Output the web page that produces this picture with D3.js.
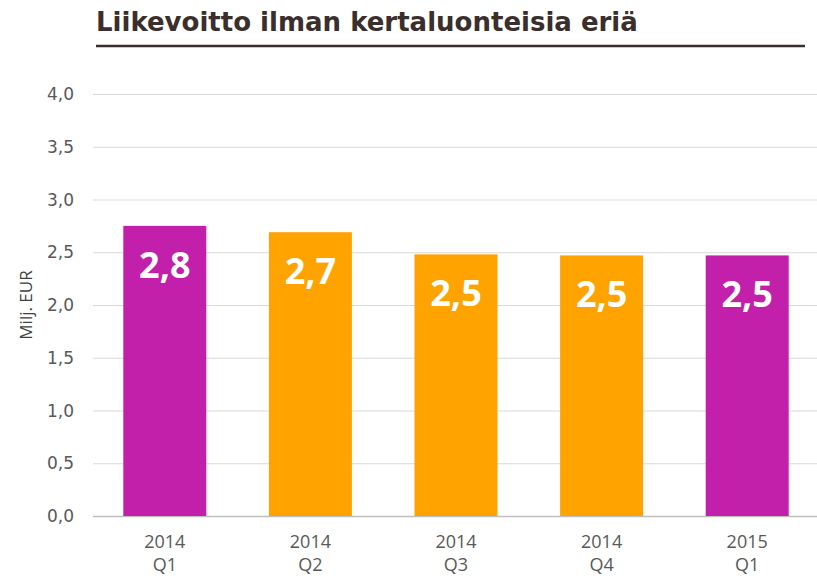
<!DOCTYPE html>
<html>
<head>
<meta charset="utf-8">
<script src="https://cdn.jsdelivr.net/npm/d3@7"></script>
<style>
  body { margin: 0; background: #fff; }
  svg { display: block; }
</style>
</head>
<body>
<div id="chart"></div>
<script>
// data
var years = ["2014", "2014", "2014", "2014", "2015"];
var quarters = ["Q1", "Q2", "Q3", "Q4", "Q1"];
var values = [2.75, 2.69, 2.48, 2.47, 2.47];
var valueLabels = ["2,8", "2,7", "2,5", "2,5", "2,5"];
var barColors = ["#C21FAB", "#FFA300", "#FFA300", "#FFA300", "#C21FAB"];
var yTicks = [0, 0.5, 1, 1.5, 2, 2.5, 3, 3.5, 4];

var width = 817, height = 576;

var df = values.map(function(v, i){
  return {key: i, year: years[i], q: quarters[i], value: v, label: valueLabels[i], color: barColors[i]};
});

var svg = d3.select("#chart").append("svg")
  .attr("width", width)
  .attr("height", height);

// title + rule under it
svg.append("text")
  .attr("x", 96)
  .attr("y", 31)
  .style("font-family", "'DejaVu Sans', sans-serif")
  .style("font-weight", "bold")
  .style("font-size", "26px")
  .style("fill", "#3a2f2c")
  .text("Liikevoitto ilman kertaluonteisia eriä");

svg.append("line")
  .attr("x1", 96).attr("x2", 805)
  .attr("y1", 46).attr("y2", 46)
  .style("stroke", "#3a2f2c")
  .style("stroke-width", 2.5);

var yScale = d3.scaleLinear()
  .domain([0, 4])
  .range([516, 94]);

var xScale = d3.scaleBand()
  .domain(df.map(function(d){ return d.key; }))
  .range([92, 820])
  .paddingInner(0.43)
  .paddingOuter(0.215);

// gridlines
svg.append("g").selectAll("line")
  .data(yTicks)
  .enter()
  .append("line")
    .attr("x1", 93).attr("x2", 817)
    .attr("y1", function(d){ return yScale(d) + 0.5; })
    .attr("y2", function(d){ return yScale(d) + 0.5; })
    .style("stroke", function(d){ return d === 0 ? "#bfbfbf" : "#d9d9d9"; })
    .style("stroke-width", function(d){ return d === 0 ? 1.5 : 1; });

// y tick labels
svg.append("g").selectAll("text")
  .data(yTicks)
  .enter()
  .append("text")
    .attr("x", 74)
    .attr("y", function(d){ return yScale(d); })
    .attr("dy", "0.36em")
    .style("text-anchor", "end")
    .style("font-family", "'DejaVu Sans', sans-serif")
    .style("font-size", "17px")
    .style("fill", "#595959")
    .text(function(d){ return d3.format(".1f")(d).replace(".", ","); });

// bars
svg.append("g").selectAll("rect")
  .data(df)
  .enter()
  .append("rect")
    .attr("x", function(d){ return xScale(d.key); })
    .attr("y", function(d){ return yScale(d.value); })
    .attr("width", xScale.bandwidth())
    .attr("height", function(d){ return yScale(0) - yScale(d.value); })
    .attr("fill", function(d){ return d.color; });

// value labels inside bars
svg.append("g").selectAll("text")
  .data(df)
  .enter()
  .append("text")
    .attr("x", function(d){ return xScale(d.key) + xScale.bandwidth() / 2; })
    .attr("y", function(d){ return yScale(d.value) + 52; })
    .style("text-anchor", "middle")
    .style("font-family", "'Open Sans', sans-serif")
    .style("font-weight", "bold")
    .style("font-size", "36px")
    .style("fill", "#fff")
    .text(function(d){ return d.label; });

// x category labels (two lines)
var xl = svg.append("g").selectAll("text")
  .data(df)
  .enter()
  .append("text")
    .attr("x", function(d){ return xScale(d.key) + xScale.bandwidth() / 2; })
    .attr("y", 548)
    .style("text-anchor", "middle")
    .style("font-family", "'Open Sans', sans-serif")
    .style("font-size", "18px")
    .style("fill", "#595959");
xl.append("tspan")
  .attr("x", function(d){ return xScale(d.key) + xScale.bandwidth() / 2; })
  .text(function(d){ return d.year; });
xl.append("tspan")
  .attr("x", function(d){ return xScale(d.key) + xScale.bandwidth() / 2; })
  .attr("dy", 23)
  .text(function(d){ return d.q; });

// y axis title
svg.append("text")
  .attr("transform", "translate(32,305) rotate(-90)")
  .style("text-anchor", "middle")
  .style("font-family", "'Open Sans', sans-serif")
  .style("font-size", "17px")
  .style("fill", "#404040")
  .text("Milj. EUR");
</script>
</body>
</html>
